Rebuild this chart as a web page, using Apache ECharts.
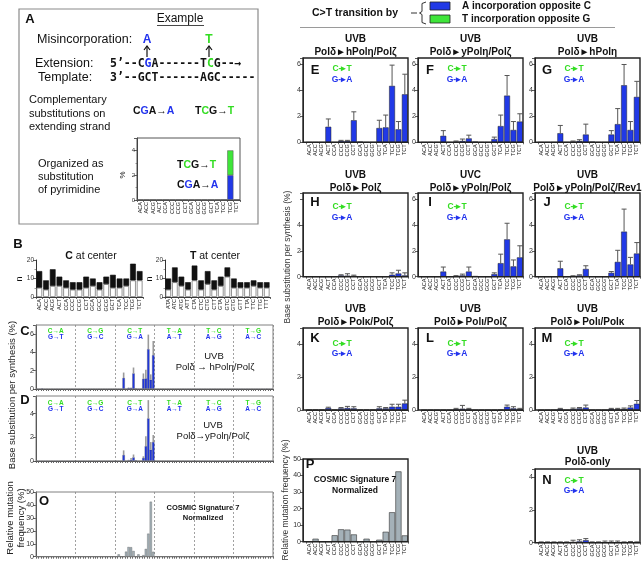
<!DOCTYPE html>
<html><head><meta charset="utf-8">
<script src="https://cdn.jsdelivr.net/npm/echarts@6/dist/echarts.min.js"></script>
<style>html,body{margin:0;padding:0;background:#fff}#c{width:642px;height:562px}</style>
</head><body><div id="c"></div>
<script>
// ---------------- DATA ----------------
const cCenterCats = ['ACA','ACC','ACG','ACT','CCA','CCC','CCG','CCT','GCA','GCC','GCG','GCT','TCA','TCC','TCG','TCT'];
const tCenterCats = ['ATA','ATC','ATG','ATT','CTA','CTC','CTG','CTT','GTA','GTC','GTG','GTT','TTA','TTC','TTG','TTT'];
// panel B (n, stacked white bottom + black top)
const cCenterWhite = [5,4,6,6,5,4,4,5,6,4,7,5,5,6,9,9];
const cCenterBlack = [9,5,9,5,4,4,4,6,4,4,4,7,5,4,9,5];
const tCenterWhite = [4,8,6,4,9,4,7,4,6,11,5,5,5,6,5,5];
const tCenterBlack = [6,8,5,4,8,5,7,5,5,5,5,3,3,3,3,3];
// panel A example (%)
const exampleBlue  = [0,0,0,0,0,0,0,0,0,0,0,0,0,0,2,0];
const exampleGreen = [0,0,0,0,0,0,0,0,0,0,0,0,0,0,2,0];
// panels E-N : base substitution per synthesis (%), C>T contexts
const eVals=[0,0,0,1.2,0,0.1,0.1,1.7,0.05,0,0,1.1,1.15,4.35,1.0,3.7];
const eErr =[0,0,0,0.6,0,0.05,0.05,0.65,0,0,0,0.6,0.95,1.6,0.6,1.55];
const fVals=[0,0,0,0.5,0,0.05,0.1,0.3,0.05,0,0,0.25,1.25,3.6,0.95,1.6];
const fErr =[0,0,0,0.4,0,0.05,0.15,0.25,0,0,0,0.15,0.85,1.55,0.65,0.6];
const gVals=[0,0,0,0.7,0,0.05,0.1,0.6,0.05,0,0,0.6,1.4,4.4,0.95,3.5];
const gErr =[0,0,0,0.6,0,0.05,0.1,0.8,0,0,0,0.3,1.2,1.6,0.65,1.2];
const hVals=[0,0,0,0,0,0.1,0.08,0.07,0,0,0.02,0,0,0.15,0.25,0.1];
const hErr =[0,0,0,0,0,0.05,0.15,0.05,0,0,0,0,0,0.15,0.25,0.2];
const iVals=[0,0,0,0.4,0,0.05,0.1,0.4,0.05,0,0,0.2,1.05,2.9,0.8,1.5];
const iErr =[0,0,0,0.35,0,0.03,0.1,0.35,0,0,0,0.1,0.7,1.25,0.5,0.9];
const jVals=[0,0,0,0.65,0,0.05,0.1,0.6,0.02,0,0,0.3,1.15,3.5,0.95,1.8];
const jErr =[0,0,0,0.55,0,0.02,0.05,0.25,0,0,0,0.1,0.9,1.75,0.55,0.85];
const kVals=[0.02,0.02,0.02,0.12,0.02,0.1,0.12,0.1,0.02,0.02,0.02,0.1,0.1,0.2,0.2,0.4];
const kErr =[0,0,0,0.05,0,0.05,0.1,0.1,0,0,0,0.1,0.05,0.15,0.15,0.2];
const lVals=[0,0,0,0,0,0.05,0.08,0.05,0,0,0,0,0.02,0.2,0.1,0.05];
const lErr =[0,0,0,0,0,0.05,0.2,0.05,0,0,0,0,0,0.1,0.1,0.05];
const mVals=[0,0,0,0.07,0,0.07,0.1,0.15,0,0,0,0.07,0.05,0.07,0.15,0.38];
const mErr =[0,0,0,0.03,0,0.05,0.05,0.15,0,0,0,0.03,0.05,0.05,0.1,0.2];
const nVals=[0,0,0,0,0,0.05,0.08,0.15,0,0,0,0,0,0,0.02,0];
const nErr =[0.05,0.05,0.05,0.05,0.05,0.1,0.1,0.1,0.05,0.05,0.1,0.1,0.1,0.05,0.05,0.05];
// COSMIC signature 7 normalized (%)
const pVals=[0,1.8,0,0,3.9,7.5,7.3,4.4,0,1.8,0,1.2,6,17.8,42.5,3.8];
// full spectra (C, D, O), six substitution groups of 16
const groupTop    = ['C\u2192A','C\u2192G','C\u2192T','T\u2192A','T\u2192C','T\u2192G'];
const groupBottom = ['G\u2192T','G\u2192C','G\u2192A','A\u2192T','A\u2192G','A\u2192C'];
const zero16 = [0,0,0,0,0,0,0,0,0,0,0,0,0,0,0,0];
const cGroupCA=[0,0,0.05,0,0,0,0,0,0,0,0,0,0,0,0,0];
const cGroupTG=[0,0,0,0,0,0,0,0,0,0,0,0,0,0.03,0,0];
const dGroupCA=[0,0,0,0,0,0,0,0,0,0,0,0,0,0,0,0];
const oGroupTC=[0,0,0,0,0,0,0,0,0,0,0,0,0,0.5,0,0];
const cSpectrum = [cGroupCA, zero16, eVals, zero16, zero16, cGroupTG];
const cSpecErr  = [zero16, zero16, eErr, zero16, zero16, zero16];
const dSpectrum = [dGroupCA, zero16, fVals, zero16, zero16, zero16];
const dSpecErr  = [zero16, zero16, fErr, zero16, zero16, zero16];
const oSpectrum = [zero16, zero16, pVals, zero16, oGroupTC, zero16];

// ---------------- BUILD ----------------
const FONT='"Liberation Sans", Arial, Helvetica, sans-serif';
const MONO='"DejaVu Sans Mono", "Liberation Mono", monospace';
const BLUE='#2139e6', GREEN='#3fe53a', GRAYBAR='#a4b1b8';
const TG='#33dd22', TB='#2233ee';
const opt={animation:false, backgroundColor:'#fff', grid:[], xAxis:[], yAxis:[], series:[], graphic:[]};
const G=opt.graphic;
function text(x,y,s,o={}){
  G.push({type:'text', x:x, y:y, rotation:o.rot||0, z:60, silent:true,
    style:{text:s, font:(o.w||'normal')+' '+(o.size||10)+'px '+(o.fam||FONT), fill:o.color||'#111',
      textAlign:o.align||'center', textVerticalAlign:'middle', align:o.align||'center', verticalAlign:'middle', rich:o.rich}});
}
function line(x1,y1,x2,y2,o={}){ G.push({type:'line', z:60, silent:true, shape:{x1,y1,x2,y2}, style:{stroke:o.color||'#333', lineWidth:o.w||1, lineDash:o.dash||null}}); }
function poly(points,o={}){ G.push({type:'polyline', z:60, silent:true, shape:{points}, style:{stroke:o.color||'#333', lineWidth:o.w||1, fill:'none'}}); }
function rect(x,y,w,h,o={}){ G.push({type:'rect', z:o.z||55, silent:true, shape:{x,y,width:w,height:h}, style:{fill:o.fill||'none', stroke:o.stroke||'#333', lineWidth:o.lw||1}}); }

function addAxes(c){
  const gi=opt.grid.length;
  opt.grid.push({left:c.left, top:c.top, width:c.width, height:c.height, containLabel:false, outerBoundsMode:'none', show:false});
  const xi=opt.xAxis.length, yi=opt.yAxis.length;
  opt.xAxis.push({type:'category', gridIndex:gi, data:c.cats, boundaryGap:true,
    axisLine:{show:true, lineStyle:{color:'#333', width:1}},
    axisTick:{show:true, interval:0, length:c.tickLen||2, lineStyle:{color:'#444', width:0.8}},
    axisLabel:{show:c.xLabels!==false, interval:0, rotate:90, fontSize:c.xFont||6, margin:2, color:'#222', fontFamily:FONT, hideOverlap:false},
    splitLine:{show:false}});
  opt.yAxis.push({type:'value', gridIndex:gi, min:0, max:c.yMax, interval:c.yInt, offset:c.yOffset||0,
    axisLine:{show:true, lineStyle:{color:'#333', width:1}},
    axisTick:{show:true, length:3, lineStyle:{color:'#333', width:0.8}},
    minorTick:{show:!!c.minor, splitNumber:c.minor||2, length:1.5, lineStyle:{color:'#555', width:0.6}},
    axisLabel:{fontSize:c.yFont||7, color:'#333', margin:2, fontFamily:FONT, showMaxLabel:true,
      formatter:function(v){ const k=v/c.yInt; if(Math.abs(k-Math.round(k))>1e-6) return ''; if(c.hideAbove!=null && v>c.hideAbove) return ''; return String(v);} },
    splitLine:{show:false}});
  return {gi, xi, yi};
}
function barSeries(ax, vals, o={}){
  opt.series.push({type:'bar', xAxisIndex:ax.xi, yAxisIndex:ax.yi, data:vals, barCategoryGap:o.gap||'8%', stack:o.stack,
    itemStyle:{color:o.color||BLUE, borderColor:o.border||'#222', borderWidth:o.bw!=null?o.bw:0.5}, z:2, silent:true});
}
function errSeries(ax, vals, errs, o={}){
  const cap=o.cap!=null?o.cap:2.5, col=o.color||'#555', lw=o.w||1;
  opt.series.push({type:'custom', xAxisIndex:ax.xi, yAxisIndex:ax.yi, silent:true, z:3,
    data: vals.map((v,i)=>[i, v, errs[i]]),
    renderItem:function(params, api){
      const x=api.value(0), v=api.value(1), e=api.value(2);
      if(!(e>0)) return null;
      const p0=api.coord([x,v]), p1=api.coord([x,v+e]);
      const ch=[{type:'line', shape:{x1:p0[0],y1:p0[1],x2:p1[0],y2:p1[1]}, style:{stroke:col, lineWidth:lw}}];
      if(cap>0) ch.push({type:'line', shape:{x1:p1[0]-cap,y1:p1[1],x2:p1[0]+cap,y2:p1[1]}, style:{stroke:col, lineWidth:lw}});
      return {type:'group', children:ch};
    }});
}

// ---------- Panel A ----------
rect(19,9,239,215,{stroke:'#8a8a8a', lw:1.2});
text(30,19,'A',{w:'bold', size:13});
text(180,19,'Example',{size:12});
line(157,25.5,204,25.5,{w:0.9});
text(37,40,'Misincorporation:',{size:12.5, align:'left'});
text(147,40,'A',{w:'bold', size:12, color:TB});
text(209,40,'T',{w:'bold', size:12, color:TG});
[147,209].forEach(x=>{ line(x,57,x,46,{w:1.2,color:'#111'}); poly([[x-3,50],[x,46],[x+3,50]],{w:1.2,color:'#111'}); });
text(35,64,'Extension:',{size:12.5, align:'left'});
text(38,78,'Template:',{size:12.5, align:'left'});
const seqRich={b:{fill:TB,color:TB,font:'bold 11.5px '+MONO}, g:{fill:TG,color:TG,font:'bold 11.5px '+MONO}};
text(110,64,'5\u2019--C{b|G}A------T{g|C}G--\u2192',{w:'bold', size:11.5, fam:MONO, align:'left', rich:seqRich});
text(110,78,'3\u2019--GCT------AGC-----',{w:'bold', size:11.5, fam:MONO, align:'left'});
text(29,100,'Complementary',{size:11, align:'left'});
text(29,114,'substitutions on',{size:11, align:'left'});
text(29,127,'extending strand',{size:11, align:'left'});
const subRich={b:{fill:TB,color:TB,font:'bold 10.5px '+FONT}, g:{fill:TG,color:TG,font:'bold 10.5px '+FONT}};
text(133,111,'C{b|G}A\u2192{b|A}',{w:'bold', size:10.5, align:'left', rich:subRich});
text(195,111,'T{g|C}G\u2192{g|T}',{w:'bold', size:10.5, align:'left', rich:subRich});
text(38,164,'Organized as',{size:11, align:'left'});
text(38,177,'substitution',{size:11, align:'left'});
text(38,190,'of pyrimidine',{size:11, align:'left'});
{
  const ax=addAxes({left:137, top:138, width:103, height:62, cats:cCenterCats, yMax:5, yInt:2, minor:2, yFont:6, xFont:5.5});
  barSeries(ax, exampleBlue, {stack:'exA', color:BLUE, border:'#555', gap:'5%'});
  barSeries(ax, exampleGreen, {stack:'exA', color:GREEN, border:'#555', gap:'5%'});
  rect(137,138,103,62,{stroke:'#555', lw:1});
  text(123,175,'%',{size:8, rot:Math.PI/2});
  text(177,165,'T{g|C}G\u2192{g|T}',{w:'bold', size:10.5, align:'left', rich:subRich});
  text(177,185,'C{b|G}A\u2192{b|A}',{w:'bold', size:10.5, align:'left', rich:subRich});
}

// ---------- Panel B ----------
text(18,244,'B',{w:'bold', size:13});
[[36,107,cCenterCats,cCenterWhite,cCenterBlack,'{b|C} at center',91,20,'nC'],[165,105,tCenterCats,tCenterWhite,tCenterBlack,'{b|T} at center',215,150,'nT']].forEach(b=>{
  const ax=addAxes({left:b[0], top:260, width:b[1], height:37, cats:b[2], yMax:20, yInt:10, minor:2, xFont:5.5, yFont:6.5});
  barSeries(ax, b[3], {stack:b[8], color:'#fff', border:'#777', bw:0.8, gap:'14%'});
  barSeries(ax, b[4], {stack:b[8], color:'#111', border:'#111', bw:0.6, gap:'14%'});
  text(b[6],256,b[5],{size:10.5, rich:{b:{font:'bold 10.5px '+FONT, fill:'#111'}}});
  text(b[7],279,'n',{size:9, rot:Math.PI/2});
});

// ---------- Panels C, D, O ----------
const allCats=[]; groupTop.forEach((g,gi)=>{ (gi<3?cCenterCats:tCenterCats).forEach(c=>allCats.push(g+' '+c)); });
function flat(groups){ const a=[]; groups.forEach(g=>g.forEach(v=>a.push(v))); return a; }
function leftPanel(p){
  const L=36, W=237;
  const ax=addAxes({left:L, top:p.t, width:W, height:p.b-p.t, cats:allCats, yMax:p.max, yInt:p.int, xLabels:false, tickLen:2, yFont:7});
  opt.xAxis.push({type:'value', gridIndex:ax.gi, position:'top', min:0, max:96, interval:16,
    axisLine:{show:false}, axisTick:{show:false}, axisLabel:{show:false},
    splitLine:{show:true, lineStyle:{color:'#8a8a8a', type:[2,2], width:0.8}}});
  const vals=flat(p.groups);
  barSeries(ax, vals, {color:p.color||BLUE, border:p.border||'#223', bw:0.3, gap:'10%'});
  if(p.errs) errSeries(ax, vals, flat(p.errs), {cap:0, color:'#9a9a9a', w:1.6});
  rect(L,p.t,W,p.b-p.t,{stroke:'#808080', lw:1});
  if(p.labels){
    for(let g=0; g<6; g++){
      const cx=L+W*(g+0.5)/6;
      text(cx,p.t+p.ly,groupTop[g],{w:'bold', size:6.5, color:TG});
      text(cx,p.t+p.ly+6,groupBottom[g],{w:'bold', size:6.5, color:TB});
    }
  }
}
leftPanel({t:325, b:389, max:7, int:2, groups:cSpectrum, errs:cSpecErr, labels:true, ly:6});
text(25,331,'C',{w:'bold', size:13});
text(214,356,'UVB',{size:9.5});
text(215,367,'Pol\u03b4 \u2192 hPol\u03b7/Pol\u03b6',{size:9.5});
leftPanel({t:396, b:461, max:5.5, int:2, groups:dSpectrum, errs:dSpecErr, labels:true, ly:7});
text(25,400,'D',{w:'bold', size:13});
text(213,425,'UVB',{size:9.5});
text(213,436,'Pol\u03b4\u2192yPol\u03b7/Pol\u03b6',{size:9.5});
leftPanel({t:492, b:556.7, max:50, int:10, groups:oSpectrum, color:GRAYBAR, border:'#444'});
text(44,501,'O',{w:'bold', size:13});
text(203,508,'COSMIC Signature 7',{w:'bold', size:7.5});
text(203,518,'Normalized',{w:'bold', size:7.5});
text(12,395,'Base substitution per synthesis (%)',{size:9.5, rot:Math.PI/2, color:'#222'});
text(10,518,'Relative mutation',{size:9.5, rot:Math.PI/2, color:'#222'});
text(21,518,'frequency (%)',{size:9.5, rot:Math.PI/2, color:'#222'});

// ---------- Header legend ----------
text(312,13,'C>T transition by',{w:'bold', size:10.5, align:'left'});
line(411,13,417,13,{w:1});
poly([[426,2],[422,3.5],[422,11.5],[419.5,13],[422,14.5],[422,22.5],[426,24]],{w:1});
rect(430,2,20,8,{fill:BLUE, stroke:'#222', lw:0.8});
rect(430,15,20,8,{fill:GREEN, stroke:'#222', lw:0.8});
text(462,6.5,'A incorporation opposite C',{w:'bold', size:10, align:'left'});
text(462,19.5,'T incorporation opposite G',{w:'bold', size:10, align:'left'});
line(300,27.5,615,27.5,{color:'#9a9a9a', w:1});

// ---------- Panels E-N, P ----------
const colX=[303,418,535], FW=105;
const ROWS={
  r1:{t:58,b:142.3,max:6.5,ty:[39,52],ld:12,cd:11,gd:22},
  r2:{t:193,b:276.7,max:6.5,ty:[175,188],ld:9,cd:14,gd:25},
  r3:{t:328,b:410,max:5,ty:[309,322],ld:10,cd:16,gd:26},
  rN:{t:469,b:542.7,max:4.5,ty:[451,462],ld:11,cd:12,gd:22}
};
function rightPanel(col,row,letter,t1,t2,vals,errs,o={}){
  const l=colX[col], R=ROWS[row];
  const ax=addAxes({left:l+3, top:R.t, width:FW-3, height:R.b-R.t, cats:cCenterCats, yMax:R.max, yInt:2, yOffset:3, xFont:5.5, hideAbove:o.hideAbove});
  barSeries(ax, vals, {gap:'8%'});
  errSeries(ax, vals, errs, {});
  rect(l,R.t,FW,R.b-R.t,{stroke:'#222', lw:1.4});
  text(l+12,R.t+R.ld,letter,{w:'bold', size:13});
  text(l+39,R.t+R.cd,'C-\u25B8T',{w:'bold', size:8.5, color:TG});
  text(l+39,R.t+R.gd,'G-\u25B8A',{w:'bold', size:8.5, color:TB});
  text(l+FW/2,R.ty[0],t1,{w:'bold', size:10});
  text(l+FW/2,R.ty[1],t2,{w:'bold', size:10});
}
const AR='\u25BA';
rightPanel(0,'r1','E','UVB','Pol\u03b4'+AR+'hPol\u03b7/Pol\u03b6',eVals,eErr);
rightPanel(1,'r1','F','UVB','Pol\u03b4'+AR+'yPol\u03b7/Pol\u03b6',fVals,fErr);
rightPanel(2,'r1','G','UVB','Pol\u03b4'+AR+'hPol\u03b7',gVals,gErr);
rightPanel(0,'r2','H','UVB','Pol\u03b4'+AR+'Pol\u03b6',hVals,hErr,{hideAbove:4});
rightPanel(1,'r2','I','UVC','Pol\u03b4'+AR+'yPol\u03b7/Pol\u03b6',iVals,iErr);
rightPanel(2,'r2','J','UVB','Pol\u03b4'+AR+'yPol\u03b7/Pol\u03b6/Rev1',jVals,jErr);
rightPanel(0,'r3','K','UVB','Pol\u03b4'+AR+'Pol\u03ba/Pol\u03b6',kVals,kErr);
rightPanel(1,'r3','L','UVB','Pol\u03b4'+AR+'Pol\u03b9/Pol\u03b6',lVals,lErr);
rightPanel(2,'r3','M','UVB','Pol\u03b4'+AR+'Pol\u03b9/Pol\u03ba',mVals,mErr);
rightPanel(2,'rN','N','UVB','Pol\u03b4-only',nVals,nErr);
{
  const l=303, t=459, b=541.7;
  const ax=addAxes({left:l+3, top:t, width:FW-3, height:b-t, cats:cCenterCats, yMax:50, yInt:10, yOffset:3, xFont:5.5});
  barSeries(ax, pVals, {color:GRAYBAR, border:'#333', bw:0.6, gap:'4%'});
  rect(l,t,FW,b-t,{stroke:'#222', lw:1.4});
  text(310,464,'P',{w:'bold', size:13});
  text(355,480,'COSMIC Signature 7',{w:'bold', size:8.5});
  text(355,491,'Normalized',{w:'bold', size:8.5});
}
text(288,257,'Base substitution per synthesis (%)',{size:8.5, rot:Math.PI/2, color:'#333'});
text(286,500,'Relative mutation frequency (%)',{size:8.5, rot:Math.PI/2, color:'#333'});

const chart=echarts.init(document.getElementById('c'),null,{renderer:'canvas'});
chart.setOption(opt);
</script></body></html>
